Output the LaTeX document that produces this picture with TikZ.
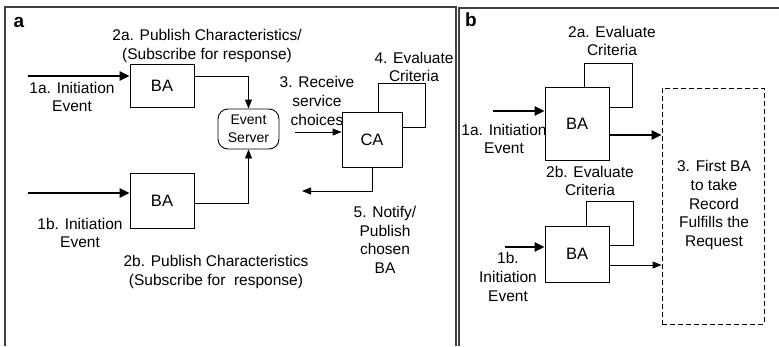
\documentclass[tikz,border=0pt]{standalone}
\usepackage{fontspec}
\setmainfont{Liberation Sans}
\usetikzlibrary{arrows.meta}
\begin{document}
\begin{tikzpicture}[x=1pt,y=-1pt,
  lbl/.style={align=center,inner sep=0pt,font=\fontsize{15.5}{18.7}\selectfont},
  box/.style={draw,line width=0.9pt,inner sep=0pt,font=\fontsize{16.5}{19}\selectfont},
  thinline/.style={line width=0.9pt},
  thinarrow/.style={line width=0.9pt,-{Triangle[length=9pt,width=7pt]}},
  thickarrow/.style={line width=2.6pt,-{Triangle[length=10pt,width=9pt]}},
  framel/.style={line width=1.1pt,draw=black!75},
  panel/.style={inner sep=0pt,font=\fontsize{19}{20}\selectfont\bfseries}]
\useasboundingbox (0,0) rectangle (779,346);
% frames
\draw[framel] (5,346) -- (5,7) -- (456,7) -- (456,346);
\draw[framel] (459,346) -- (459,8) -- (779,8);
\node[panel] (pa) at (19,22) {a};
\node[panel] (pb) at (471,20) {b};
% ---- panel a ----
\node[box,minimum width=64pt,minimum height=43pt] (ba1) at (162,85.5) {BA};
\node[box,minimum width=64pt,minimum height=55pt] (ba2) at (162,200.5) {BA};
\node[box,rounded corners=10pt,minimum width=61pt,minimum height=40pt,align=center,font=\fontsize{14}{18}\selectfont] (es) at (248.5,129) {Event\\Server};
\node[box,minimum width=60pt,minimum height=55pt] (ca) at (372,139.5) {CA};
\node[lbl] (t2a) at (207,46) {2a. Publish Characteristics/\\(Subscribe for response)};
\node[lbl] (t1a) at (72,97) {1a. Initiation\\Event};
\node[lbl] (t1b) at (80,233) {1b. Initiation\\Event};
\node[lbl] (t2b) at (216,272) {2b. Publish Characteristics\\(Subscribe for\ \ response)};
\node[lbl] (t3) at (317,101) {3. Receive\\service\\choices};
\node[lbl] (t4) at (414,67) {4. Evaluate\\Criteria};
\node[lbl] (t5) at (385,240) {5. Notify/\\Publish\\chosen\\BA};
\coordinate (in1a) at (28,76);
\coordinate (in1b) at (28,193);
\coordinate (y2b) at (0,203);
\coordinate (rc) at (295,132);
\coordinate (cal1) at (378,83);
\coordinate (cal2) at (425,127);
\coordinate (nx) at (372,0);
\coordinate (nt) at (302,191);
\draw[thickarrow] (in1a) -- (in1a -| ba1.west);
\draw[thickarrow] (in1b) -- (in1b -| ba2.west);
\draw[thinarrow] (ba1.east |- in1a) -| (es.north);
\draw[thinarrow] (ba2.east |- y2b) -| (es.south);
\draw[thinarrow] (rc) -- (rc -| ca.west);
\draw[thinline] (ca.north -| cal1) -- (cal1) -| (cal2) -- (cal2 -| ca.east);
\draw[thinarrow] (ca.south -| nx) |- (nt);
% ---- panel b ----
\node[box,minimum width=64pt,minimum height=73pt] (bb1) at (577,123.5) {BA};
\node[box,minimum width=64pt,minimum height=56pt] (bb2) at (577,254) {BA};
\node[draw,line width=0.9pt,dash pattern=on 5pt off 3pt,minimum width=102pt,minimum height=236pt,inner sep=0pt] (db) at (713,206) {};
\node[lbl] (b2a) at (612,41) {2a. Evaluate\\Criteria};
\node[lbl] (b1a) at (504,139) {1a. Initiation\\Event};
\node[lbl] (b2b) at (590,181) {2b. Evaluate\\Criteria};
\node[lbl] (b1b) at (508,277) {1b.\\Initiation\\Event};
\node[lbl] (b3) at (714,205) {3. First BA\\to take\\Record\\Fulfills the\\Request};
\coordinate (bl1) at (584,63);
\coordinate (bl2) at (632,107);
\coordinate (bl3) at (586,201);
\coordinate (bl4) at (633,245);
\coordinate (bi1) at (493,111);
\coordinate (bi2) at (505,247);
\coordinate (bo1) at (0,135);
\coordinate (bo2) at (0,265);
\draw[thinline] (bb1.north -| bl1) -- (bl1) -| (bl2) -- (bl2 -| bb1.east);
\draw[thinline] (bb2.north -| bl3) -- (bl3) -| (bl4) -- (bl4 -| bb2.east);
\draw[thickarrow] (bi1) -- (bi1 -| bb1.west);
\draw[thickarrow] (bi2) -- (bi2 -| bb2.west);
\draw[thickarrow] (bb1.east |- bo1) -- (db.west |- bo1);
\draw[thinarrow] (bb2.east |- bo2) -- (db.west |- bo2);
\end{tikzpicture}
\end{document}
